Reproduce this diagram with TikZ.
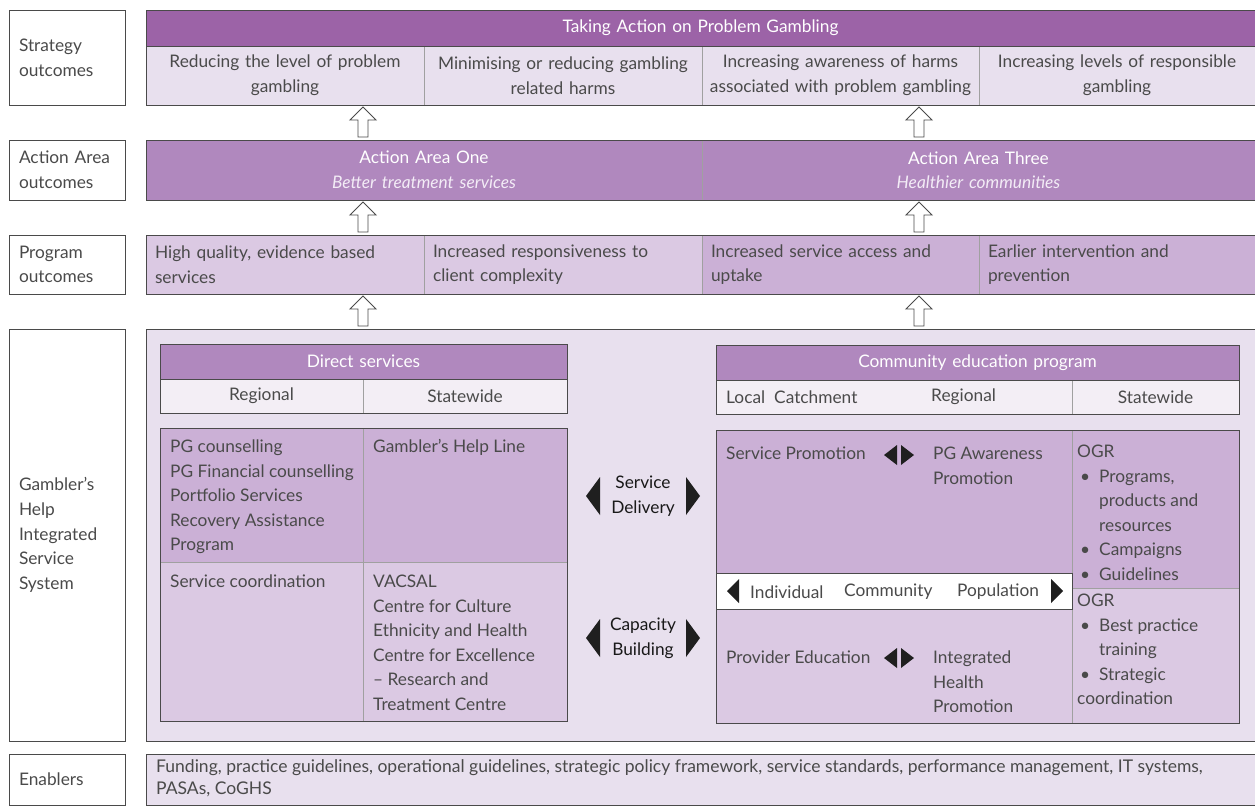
\documentclass[tikz,border=0pt]{standalone}
\usepackage{fontspec}
\setmainfont{Lato}
\usetikzlibrary{calc}
\definecolor{titlebar}{HTML}{9C63A7}
\definecolor{areabar}{HTML}{B088BE}
\definecolor{palerow}{HTML}{E8E0EE}
\definecolor{midrow}{HTML}{DBC9E3}
\definecolor{deeprow}{HTML}{CBB0D6}
\definecolor{rowwhite}{HTML}{F3EEF5}
\definecolor{txt}{HTML}{4A4A4A}
\definecolor{edge}{HTML}{4A4A4A}
\definecolor{divider}{HTML}{A0A0A0}
\definecolor{subtxt}{HTML}{F3ECF6}
\newcommand\bodyfont{\fontsize{17.3}{24.6}\selectfont}
\newcommand\enabfont{\fontsize{17.5}{22}\selectfont}
\newcommand\bul{\makebox[22pt][l]{\hspace{3pt}\textbullet}}
\newcommand\ind{\hspace*{22pt}}
\tikzset{
  cell/.style={rectangle, anchor=north west, inner xsep=10pt, inner ysep=0pt, outer sep=0pt, font=\bodyfont, text=txt},
  lblbox/.style={cell, draw=edge, fill=white, line width=0.9pt, minimum width=116, text width=96pt, align=left},
  framed/.style={draw=edge, line width=0.9pt},
  divline/.style={draw=divider, line width=0.7pt},
  hollow/.style={draw=edge, fill=white, line width=0.9pt, line join=miter},
  bodytext/.style={anchor=north west, inner sep=0pt, align=left, font=\bodyfont, text=txt},
  sidetext/.style={anchor=west, inner sep=0pt, font=\bodyfont, text=txt},
  flowtext/.style={inner sep=0pt, align=center, font=\bodyfont, text=black!90},
  tri/.style={fill=black!88, draw=none},
}
\newcommand\hollowarrow[2]{%
  \draw[hollow] let \p1=(#1), \p2=(#2) in
   (\x1-5pt,\y1+3pt) -- (\x1-5pt,\y2-15pt) -- (\x1-13pt,\y2-15pt) -- (\x1,\y2-2pt)
   -- (\x1+13pt,\y2-15pt) -- (\x1+5pt,\y2-15pt) -- (\x1+5pt,\y1+3pt) -- cycle;}
\begin{document}
\begin{tikzpicture}[x=1pt,y=-1pt]
\useasboundingbox (0,0) rectangle (1255,807);
% ---------------- left labels
\node[lblbox, minimum height=95] (Lstrat) at (9,10) {Strategy\\outcomes};
\node[lblbox, minimum height=60] (Larea) at (9,140) {Action Area\\outcomes};
\node[lblbox, minimum height=59] (Lprog) at (9,235) {Program\\outcomes};
\node[lblbox, minimum height=412] (Lghiss) at (9,329) {Gambler’s\\Help\\Integrated\\Service\\System};
\node[lblbox, minimum height=51] (Lenab) at (9,754) {Enablers};
% ---------------- strategy outcomes
\node[cell, fill=titlebar, text=white, minimum width=1109, minimum height=36, text width=1089pt, align=center] (title) at (146,10) {Taking Action on Problem Gambling};
\node[cell, inner xsep=4pt, fill=palerow, minimum width=278, minimum height=59, text width=270pt, align=center] (s1) at (146,46) {Reducing the level of problem\\gambling};
\node[cell, inner xsep=4pt, fill=palerow, minimum width=278, minimum height=59, text width=270pt, align=center] (s2) at (424,46) {Minimising or reducing gambling\\related harms};
\node[cell, inner xsep=4pt, fill=palerow, minimum width=277, minimum height=59, text width=269pt, align=center] (s3) at (702,46) {Increasing awareness of harms\\associated with problem gambling};
\node[cell, inner xsep=4pt, fill=palerow, minimum width=276, minimum height=59, text width=268pt, align=center] (s4) at (979,46) {Increasing levels of responsible\\gambling};
\draw[divline] (s1.north east) -- (s1.south east);
\draw[divline] (s2.north east) -- (s2.south east);
\draw[divline] (s3.north east) -- (s3.south east);
\draw[framed] (title.south west) -- (title.south east);
\draw[framed] (title.north west) rectangle (s4.south east);
% ---------------- action areas
\node[cell, fill=areabar, text=white, minimum width=556, minimum height=60, text width=536pt, align=center] (a1) at (146,140) {Action Area One\\{\itshape\color{subtxt}Better treatment services}};
\node[cell, fill=areabar, text=white, minimum width=553, minimum height=60, text width=533pt, align=center] (a2) at (702,140) {Action Area Three\\{\itshape\color{subtxt}Healthier communities}};
\draw[divline] (a1.north east) -- (a1.south east);
\draw[framed] (a1.north west) rectangle (a2.south east);
% ---------------- program outcomes
\node[cell, inner xsep=9pt, fill=midrow, minimum width=278, minimum height=59, text width=260pt, align=left] (p1) at (146,235) {High quality, evidence based\\services};
\node[cell, inner xsep=9pt, fill=midrow, minimum width=278, minimum height=59, text width=260pt, align=left] (p2) at (424,235) {Increased responsiveness to\\client complexity};
\node[cell, inner xsep=9pt, fill=deeprow, minimum width=277, minimum height=59, text width=259pt, align=left] (p3) at (702,235) {Increased service access and\\uptake};
\node[cell, inner xsep=9pt, fill=deeprow, minimum width=276, minimum height=59, text width=258pt, align=left] (p4) at (979,235) {Earlier intervention and\\prevention};
\draw[divline] (p1.north east) -- (p1.south east);
\draw[divline] (p2.north east) -- (p2.south east);
\draw[divline] (p3.north east) -- (p3.south east);
\draw[framed] (p1.north west) rectangle (p4.south east);
% ---------------- integrated service system
\node[cell, fill=palerow, draw=edge, line width=0.9pt, minimum width=1109, minimum height=412] (ghiss) at (146,329) {};
% direct services
\node[cell, fill=areabar, text=white, minimum width=407, minimum height=35, text width=387pt, align=center] (dhead) at (160,344) {Direct services};
\node[cell, fill=rowwhite, minimum width=203, minimum height=34, text width=183pt, align=center] (dreg) at (160,379) {Regional};
\node[cell, fill=rowwhite, minimum width=204, minimum height=34, text width=184pt, align=center] (dstate) at (363,379) {Statewide};
\draw[divline] (dreg.north east) -- (dreg.south east);
\draw[framed] (dhead.south west) -- (dhead.south east);
\draw[framed] (dhead.north west) rectangle (dstate.south east);
\node[cell, fill=deeprow, minimum width=203, minimum height=134] (dA) at (160,428) {};
\node[cell, fill=deeprow, minimum width=204, minimum height=134] (dB) at (363,428) {};
\node[cell, fill=midrow, minimum width=203, minimum height=159] (dC) at (160,562) {};
\node[cell, fill=midrow, minimum width=204, minimum height=159] (dD) at (363,562) {};
\draw[divline] (dA.north east) -- (dC.south east);
\draw[divline] (dA.south west) -- (dB.south east);
\draw[framed] (dA.north west) rectangle (dD.south east);
\node[bodytext] (tPG) at (170,435) {\strut PG counselling\\PG Financial counselling\\Portfolio Services\\Recovery Assistance\\Program};
\node[bodytext] (tLine) at (373,435) {\strut Gambler’s Help Line};
\node[bodytext] (tCoord) at (170,570) {\strut Service coordination};
\node[bodytext] (tVac) at (373,570) {\strut VACSAL\\Centre for Culture\\Ethnicity and Health\\Centre for Excellence\\– Research and\\Treatment Centre};
% service delivery / capacity building
\node[flowtext] (sdel) at (643,496) {Service\\Delivery};
\fill[tri] (586,496) -- (600,477) -- (600,515) -- cycle;
\fill[tri] (686,477) -- (700,496) -- (686,515) -- cycle;
\node[flowtext] (capb) at (643,638) {Capacity\\Building};
\fill[tri] (586,638) -- (600,619) -- (600,657) -- cycle;
\fill[tri] (686,619) -- (700,638) -- (686,657) -- cycle;
% community education program
\node[cell, fill=areabar, text=white, minimum width=523, minimum height=35, text width=503pt, align=center] (chead) at (716,345) {Community education program};
\node[cell, fill=rowwhite, minimum width=356, minimum height=34] (crow) at (716,380) {};
\node[cell, fill=rowwhite, minimum width=167, minimum height=34, text width=147pt, align=center] (cstate) at (1072,380) {Statewide};
\node[sidetext] (tLocal) at (726,397) {Local\hspace{9pt}Catchment};
\node[sidetext] (tRegC) at (931,397) {Regional};
\draw[divline] (crow.north east) -- (crow.south east);
\draw[framed] (chead.south west) -- (chead.south east);
\draw[framed] (chead.north west) rectangle (cstate.south east);
\node[cell, fill=deeprow, minimum width=356, minimum height=143] (cA) at (716,430) {};
\node[cell, fill=midrow, minimum width=356, minimum height=114] (cB) at (716,609) {};
\node[cell, fill=deeprow, minimum width=167, minimum height=158] (cS1) at (1072,430) {};
\node[cell, fill=midrow, minimum width=167, minimum height=135] (cS2) at (1072,588) {};
\draw[divline] (cS1.north west) -- (cS2.south west);
\draw[divline] (cS1.south west) -- (cS1.south east);
\node[cell, fill=white, draw=edge, line width=0.9pt, minimum width=356, minimum height=36] (band) at (716,573) {};
\draw[framed] (cA.north west) rectangle (cS2.south east);
\node[bodytext] (tServ) at (726,442) {\strut Service Promotion};
\fill[tri] (884,455) -- (897,445) -- (897,465) -- cycle;
\fill[tri] (901,445) -- (914,455) -- (901,465) -- cycle;
\node[bodytext] (tAware) at (933,442) {\strut PG Awareness\\Promotion};
\node[bodytext] (tOGRa) at (1077,440) {\strut OGR\\\bul Programs,\\\ind products and\\\ind resources\\\bul Campaigns\\\bul Guidelines};
\node[sidetext] (tIndiv) at (750,592) {Individual};
\node[sidetext] (tComm) at (844,592) {Community};
\node[sidetext] (tPop) at (957,592) {Population};
\fill[tri] (727,591) -- (739,579) -- (739,603) -- cycle;
\fill[tri] (1051,579) -- (1063,591) -- (1051,603) -- cycle;
\node[bodytext] (tOGRb) at (1077,589) {\strut OGR\\\bul Best practice\\\ind training\\\bul Strategic\\coordination};
\node[bodytext] (tProv) at (726,646) {\strut Provider Education};
\fill[tri] (884,658) -- (897,648) -- (897,668) -- cycle;
\fill[tri] (901,648) -- (914,658) -- (901,668) -- cycle;
\node[bodytext] (tInt) at (933,646) {\strut Integrated\\Health\\Promotion};
% ---------------- enablers
\node[cell, fill=palerow, draw=edge, line width=0.9pt, minimum width=1109, minimum height=51] (enab) at (146,754) {};
\node[bodytext, font=\enabfont] (tEnab) at (156,757) {\strut Funding, practice guidelines, operational guidelines, strategic policy framework, service standards, performance management, IT systems,\\PASAs, CoGHS};
% ---------------- arrows
\coordinate (colL) at (363,0);
\coordinate (colR) at (919,0);
\hollowarrow{colL |- a1.north}{colL |- s1.south}
\hollowarrow{colR |- a2.north}{colR |- s3.south}
\hollowarrow{colL |- p1.north}{colL |- a1.south}
\hollowarrow{colR |- p3.north}{colR |- a2.south}
\hollowarrow{colL |- ghiss.north}{colL |- p1.south}
\hollowarrow{colR |- ghiss.north}{colR |- p3.south}
\end{tikzpicture}
\end{document}
